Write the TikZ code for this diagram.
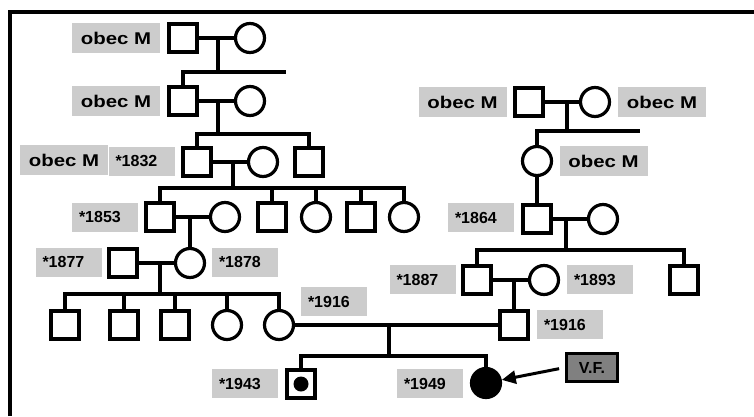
\documentclass[tikz,border=0pt]{standalone}
\usepackage{fontspec}
\setmainfont{Liberation Sans}
\newfontfamily\widefont[FakeStretch=1.2]{Liberation Sans}
\usepackage{xcolor}
\definecolor{labelgray}{RGB}{204, 204, 204}
\definecolor{tagdark}{RGB}{128, 128, 128}
\usetikzlibrary{arrows.meta, calc}

\begin{document}
\begin{tikzpicture}[x=1pt, y=-1pt, line width=3.2pt,
    male/.style={draw, rectangle, minimum size=28pt, inner sep=0pt},
    female/.style={draw, circle, minimum size=29pt, inner sep=0pt},
    village/.style={fill=labelgray, font=\widefont\bfseries\fontsize{17pt}{17pt}\selectfont,
      minimum width=88pt, minimum height=30pt, inner sep=0pt},
    born/.style={fill=labelgray, font=\bfseries\fontsize{16pt}{16pt}\selectfont,
      text width=52pt, align=left, inner xsep=7pt, inner ysep=0pt, minimum height=29pt}]
        \useasboundingbox (0,0) rectangle (754,416);
        \draw[line width=4pt] (9.5,416) -- (9.5,11.5) -- (754,11.5);

        % left branch
        \node[village] (v1) at (116,38) {obec M};
        \node[male] (a1) at (183,38) {};
        \node[female] (a2) at (250,38) {};
        \draw (a1) -- (a2);
        \coordinate (s1) at (218,72);
        \coordinate (s1end) at (286,72);

        \node[village] (v2) at (116,101) {obec M};
        \node[male] (b1) at (183,101) {};
        \node[female] (b2) at (250,101) {};
        \draw (s1 |- a1) -- (s1);
        \draw (b1.north) |- (s1) -- (s1end);
        \draw (b1) -- (b2);
        \coordinate (s2) at (218,134);

        \node[village] (v3) at (64,160) {obec M};
        \node[born] (y1832) at (141.5,161) {*1832};
        \node[male] (c1) at (197,162) {};
        \node[female] (c2) at (263,162) {};
        \node[male] (c3) at (309,162) {};
        \draw (s2 |- b1) -- (s2);
        \draw (c1.north) |- (s2) -| (c3.north);
        \draw (c1) -- (c2);
        \coordinate (s3) at (233,188);

        \node[born] (y1853) at (105,217) {*1853};
        \node[male] (d1) at (160,217) {};
        \node[female] (d2) at (225,217) {};
        \node[male] (d3) at (272,217) {};
        \node[female] (d4) at (316,217) {};
        \node[male] (d5) at (361,217) {};
        \node[female] (d6) at (404,217) {};
        \draw (s3 |- c1) -- (s3);
        \draw (d1.north) |- (s3) -| (d6.north);
        \foreach \k in {d3,d4,d5}
          \draw (s3 -| \k) -- (\k.north);
        \draw (d1) -- (d2);

        \node[born] (y1877) at (68.5,262) {*1877};
        \node[born] (y1878) at (245,262) {*1878};
        \node[male] (e1) at (123,263) {};
        \node[female] (e2) at (190,263) {};
        \draw (e2.north |- d1) -- (e2.north);
        \draw (e1) -- (e2);
        \coordinate (s5) at (160,294);

        \node[male] (f1) at (65,325) {};
        \node[male] (f2) at (124,325) {};
        \node[male] (f3) at (175,325) {};
        \node[female] (f4) at (227,325) {};
        \node[female] (f5) at (279,325) {};
        \node[born] (y1916a) at (334,301.5) {*1916};
        \draw (s5 |- e1) -- (s5);
        \draw (f1.north) |- (s5) -| (f5.north);
        \foreach \k in {f2,f3,f4}
          \draw (s5 -| \k) -- (\k.north);

        % right branch
        \node[village] (v4) at (462.5,102) {obec M};
        \node[male] (r1) at (529,102) {};
        \node[female] (r2) at (595,102) {};
        \node[village] (v5) at (662,102) {obec M};
        \draw (r1) -- (r2);
        \coordinate (s6) at (567,131);
        \coordinate (s6end) at (640,131);

        \node[female] (r3) at (537,161) {};
        \node[village] (v6) at (603.5,161) {obec M};
        \draw (s6 |- r1) -- (s6);
        \draw (r3.north) |- (s6) -- (s6end);

        \node[born] (y1864) at (481,217.5) {*1864};
        \node[male] (r4) at (537,219) {};
        \node[female] (r5) at (603,219) {};
        \draw (r3) -- (r4);
        \draw (r4) -- (r5);
        \coordinate (s7) at (566,250);

        \node[born] (y1887) at (422.5,279.5) {*1887};
        \node[male] (r6) at (477,280) {};
        \node[female] (r7) at (544,280) {};
        \node[born] (y1893) at (600,279.5) {*1893};
        \node[male] (r8) at (684,280) {};
        \draw (s7 |- r4) -- (s7);
        \draw (r6.north) |- (s7) -| (r8.north);
        \draw (r6) -- (r7);

        \node[male] (r9) at (514,325) {};
        \node[born] (y1916b) at (570,324.5) {*1916};
        \draw (r9.north |- r6) -- (r9.north);

        % last generation
        \draw (f5) -- (r9);
        \coordinate (s9) at (389,356);
        \node[born] (y1943) at (245,383.5) {*1943};
        \node[male] (g1) at (301,384) {};
        \fill (g1.center) circle (7.5);
        \node[born] (y1949) at (430,383.5) {*1949};
        \node[female, fill=black] (g2) at (486,383) {};
        \draw (s9 |- f5) -- (s9);
        \draw (g1.north) |- (s9) -| (g2.north);

        \node[draw, fill=tagdark, line width=3pt, minimum width=51pt, minimum height=28pt,
          inner sep=0pt, font=\bfseries\fontsize{16pt}{16pt}\selectfont] (vf) at (592,367.5) {V.F.};
        \draw[-{Triangle[length=14pt, width=13pt]}, line width=3pt, shorten <=6pt] (vf.west) -- (g2);
      \end{tikzpicture}
\end{document}
